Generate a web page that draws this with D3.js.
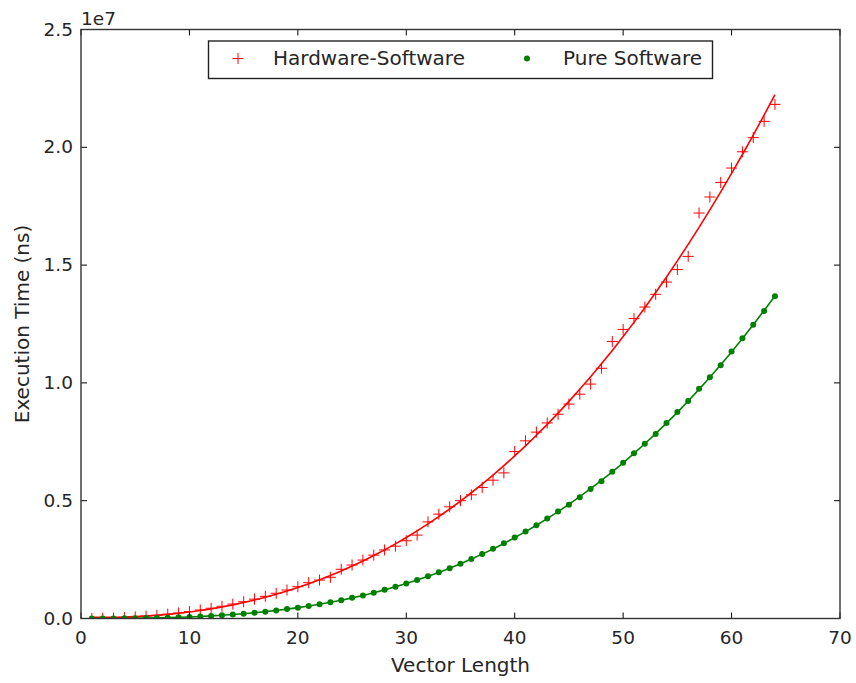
<!DOCTYPE html>
<html>
<head>
<meta charset="utf-8">
<script src="https://cdn.jsdelivr.net/npm/d3@7"></script>
<style>
  html, body { margin: 0; padding: 0; background: #fff; }
  svg { display: block; font-family: "DejaVu Sans", sans-serif; }
</style>
</head>
<body>
<svg id="chart" width="856" height="683"></svg>
<script>
// Vector lengths 1..64
const vectorLength = d3.range(1, 65);

// Execution time (ns), hardware-software co-design
const hwSwTime = [
  2500, 10000, 23000, 42000, 67000, 99000, 137000, 182000, 234000, 293000,
  360000, 435000, 519000, 611000, 711000, 821000, 941000, 1070000, 1208000, 1350000,
  1520000, 1630000, 1750000, 2090000, 2270000, 2480000, 2690000, 2910000, 3070000, 3300000,
  3540000, 4100000, 4430000, 4740000, 5000000, 5250000, 5560000, 5870000, 6180000, 7090000,
  7540000, 7910000, 8300000, 8670000, 9100000, 9520000, 9950000, 10620000, 11760000, 12270000,
  12730000, 13220000, 13760000, 14280000, 14810000, 15370000, 17210000, 17890000, 18510000, 19120000,
  19810000, 20410000, 21100000, 21820000
];

// Execution time (ns), pure software
const swTime = [
  200, 1000, 2800, 5700, 10200, 16500, 24800, 35600, 49100, 65600,
  85400, 108800, 136000, 168000, 204000, 244000, 290000, 341000, 398000, 461000,
  530000, 606000, 689000, 779000, 876000, 981000, 1094000, 1216000, 1346000, 1485000,
  1633000, 1791000, 1959000, 2137000, 2326000, 2525000, 2735000, 2957000, 3190000, 3435000,
  3693000, 3963000, 4245000, 4541000, 4830000, 5150000, 5500000, 5830000, 6230000, 6610000,
  7010000, 7420000, 7830000, 8300000, 8760000, 9230000, 9750000, 10240000, 10750000, 11330000,
  11900000, 12470000, 13050000, 13680000
];

const xTicks = [0, 10, 20, 30, 40, 50, 60, 70];
const yTicks = [0, 0.5e7, 1.0e7, 1.5e7, 2.0e7, 2.5e7];

const seriesNames = ["Hardware-Software", "Pure Software"];
const seriesColors = ["#ff0000", "#008000"];

// Least-squares polynomial fit (normal equations + Gauss-Jordan elimination)
function polyfit(xs, ys, deg) {
  const m = deg + 1;
  const A = Array.from({length: m}, () => new Array(m + 1).fill(0));
  xs.forEach((xv, k) => {
    for (let i = 0; i < m; i++) {
      for (let j = 0; j < m; j++) A[i][j] += Math.pow(xv, i + j);
      A[i][m] += ys[k] * Math.pow(xv, i);
    }
  });
  for (let c = 0; c < m; c++) {
    let p = c;
    for (let r = c + 1; r < m; r++) if (Math.abs(A[r][c]) > Math.abs(A[p][c])) p = r;
    [A[c], A[p]] = [A[p], A[c]];
    for (let r = 0; r < m; r++) {
      if (r === c) continue;
      const f = A[r][c] / A[c][c];
      for (let j = c; j <= m; j++) A[r][j] -= f * A[c][j];
    }
  }
  const coef = A.map((row, i) => row[m] / row[i]);
  return xv => coef.reduce((s, a, i) => s + a * Math.pow(xv, i), 0);
}

const svg = d3.select("#chart");
const plotLeft = 81, plotRight = 840, plotTop = 29.5, plotBottom = 618.5;

const x = d3.scaleLinear().domain([0, 70]).range([plotLeft, plotRight]);
const y = d3.scaleLinear().domain([0, 2.5e7]).range([plotBottom, plotTop]);

svg.append("defs").append("clipPath").attr("id", "plotClip")
  .append("rect").attr("x", plotLeft).attr("y", plotTop)
  .attr("width", plotRight - plotLeft).attr("height", plotBottom - plotTop);

const plot = svg.append("g").attr("clip-path", "url(#plotClip)");

const line = d3.line().x(d => x(d[0])).y(d => y(d[1]));

const hwFit = polyfit(vectorLength, hwSwTime, 3);
const swFit = polyfit(vectorLength, swTime, 3);

// fitted curves
plot.append("path")
  .datum(vectorLength.map(n => [n, hwFit(n)]))
  .attr("d", line).attr("fill", "none")
  .attr("stroke", seriesColors[0]).attr("stroke-width", 1.6);
plot.append("path")
  .datum(vectorLength.map(n => [n, swFit(n)]))
  .attr("d", line).attr("fill", "none")
  .attr("stroke", seriesColors[1]).attr("stroke-width", 1.6);

// '+' marker outline
function plusPath(s) { return `M${-s},0H${s}M0,${-s}V${s}`; }

plot.append("g").selectAll("path")
  .data(vectorLength.map((n, i) => [n, hwSwTime[i]]))
  .join("path")
  .attr("transform", d => `translate(${x(d[0])},${y(d[1])})`)
  .attr("d", plusPath(5.5))
  .attr("fill", "none").attr("stroke", seriesColors[0]).attr("stroke-width", 1);

// dot markers
plot.append("g").selectAll("circle")
  .data(vectorLength.map((n, i) => [n, swTime[i]]))
  .join("circle")
  .attr("cx", d => x(d[0])).attr("cy", d => y(d[1]))
  .attr("r", 3).attr("fill", seriesColors[1]);

// axes (ticks inside, mirrored on all sides)
const tickLen = 6;
const tickFont = 18.5;
const labelFont = 20;
const axisG = svg.append("g");

xTicks.forEach(t => {
  const px = x(t);
  axisG.append("line").attr("x1", px).attr("x2", px).attr("y1", plotBottom).attr("y2", plotBottom - tickLen)
    .attr("stroke", "#000").attr("stroke-width", 1);
  axisG.append("line").attr("x1", px).attr("x2", px).attr("y1", plotTop).attr("y2", plotTop + tickLen)
    .attr("stroke", "#000").attr("stroke-width", 1);
  axisG.append("text").attr("x", px).attr("y", plotBottom + 25.5)
    .attr("text-anchor", "middle").attr("font-size", tickFont).attr("fill", "#262626").text(t);
});

yTicks.forEach(t => {
  const py = y(t);
  axisG.append("line").attr("x1", plotLeft).attr("x2", plotLeft + tickLen).attr("y1", py).attr("y2", py)
    .attr("stroke", "#000").attr("stroke-width", 1);
  axisG.append("line").attr("x1", plotRight).attr("x2", plotRight - tickLen).attr("y1", py).attr("y2", py)
    .attr("stroke", "#000").attr("stroke-width", 1);
  axisG.append("text").attr("x", plotLeft - 8).attr("y", py + 6)
    .attr("text-anchor", "end").attr("font-size", tickFont).attr("fill", "#262626")
    .text(d3.format(".1f")(t / 1e7));
});

axisG.append("text").attr("x", plotLeft).attr("y", 25)
  .attr("font-size", tickFont).attr("fill", "#262626").text("1e7");

axisG.append("rect").attr("x", plotLeft).attr("y", plotTop)
  .attr("width", plotRight - plotLeft).attr("height", plotBottom - plotTop)
  .attr("fill", "none").attr("stroke", "#333").attr("stroke-width", 1.4);

// axis titles
svg.append("text").attr("x", (plotLeft + plotRight) / 2).attr("y", 672)
  .attr("text-anchor", "middle").attr("font-size", labelFont).attr("fill", "#262626")
  .text("Vector Length");
svg.append("text")
  .attr("transform", `translate(29,${(plotTop + plotBottom) / 2}) rotate(-90)`)
  .attr("text-anchor", "middle").attr("font-size", labelFont).attr("fill", "#262626")
  .text("Execution Time (ns)");

// legend
const legend = svg.append("g");
legend.append("rect").attr("x", 208.5).attr("y", 41).attr("width", 504).attr("height", 37.5)
  .attr("fill", "#fff").attr("stroke", "#222").attr("stroke-width", 1.4);
legend.append("path").attr("transform", "translate(238,58.5)").attr("d", plusPath(5.5))
  .attr("fill", "none").attr("stroke", seriesColors[0]).attr("stroke-width", 1);
legend.append("text").attr("x", 273).attr("y", 65).attr("font-size", labelFont)
  .attr("fill", "#262626").text(seriesNames[0]);
legend.append("circle").attr("cx", 527).attr("cy", 58.5).attr("r", 3).attr("fill", seriesColors[1]);
legend.append("text").attr("x", 563).attr("y", 65).attr("font-size", labelFont)
  .attr("fill", "#262626").text(seriesNames[1]);
</script>
</body>
</html>
